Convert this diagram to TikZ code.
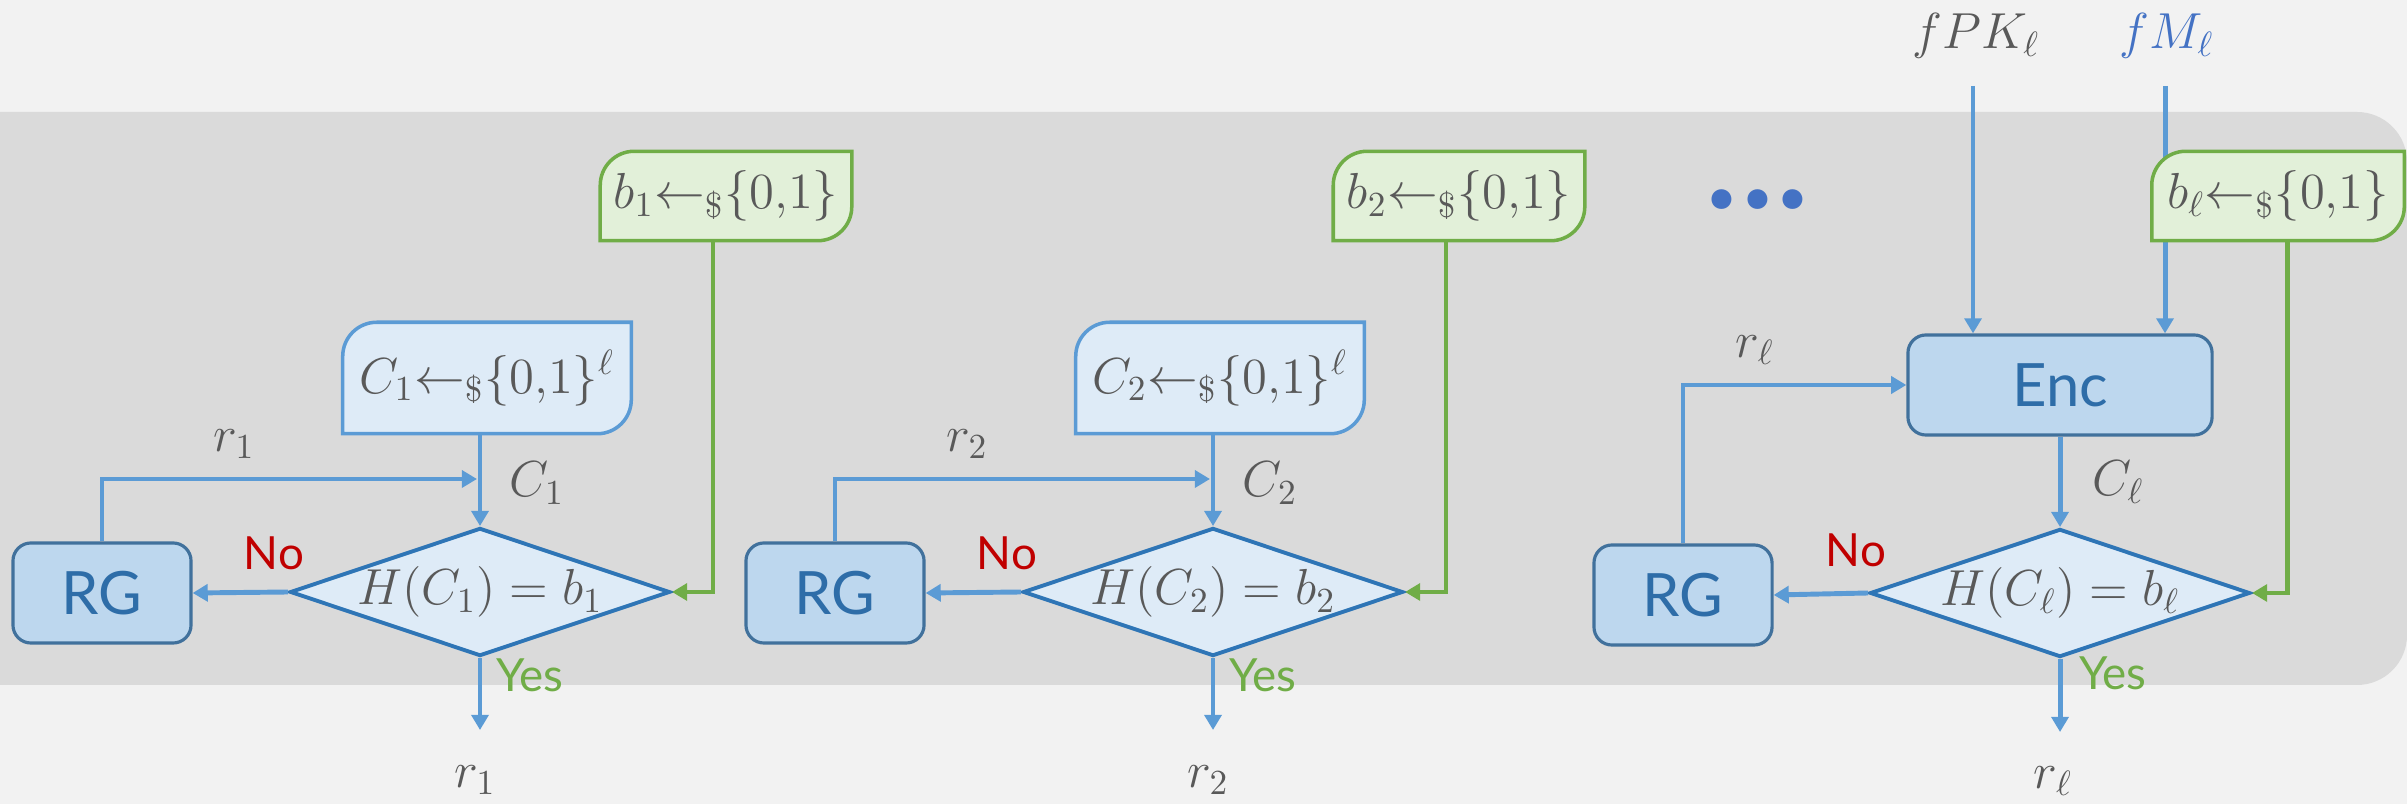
\documentclass[tikz,border=0pt]{standalone}
\usepackage{fontspec}
\setsansfont{Lato}
\newfontfamily\dotfont{Carlito}
\usetikzlibrary{arrows.meta,shapes.geometric,calc}
\definecolor{bgc}{HTML}{F2F2F2}
\definecolor{panelc}{HTML}{DADADA}
\definecolor{arrowblue}{HTML}{5B9BD5}
\definecolor{lightfill}{HTML}{DEEBF7}
\definecolor{diaborder}{HTML}{2E75B6}
\definecolor{greenc}{HTML}{70AD47}
\definecolor{greenfill}{HTML}{E2F0D9}
\definecolor{rgfill}{HTML}{BDD7EE}
\definecolor{rgborder}{HTML}{41719C}
\definecolor{rgtext}{HTML}{2E6DA8}
\definecolor{txtgray}{HTML}{595959}
\definecolor{lblue}{HTML}{4472C4}
\definecolor{redc}{HTML}{C00000}
\pgfdeclarelayer{bg}
\pgfsetlayers{bg,main}
\newcommand\rcshape[3]{%
  \draw[fill=#2, draw=#3, line width=1pt]
    (#1.south west) -- ([yshift=-0.34cm]#1.north west)
    arc[start angle=180,end angle=90,radius=0.34cm]
    -- (#1.north east) -- ([yshift=0.34cm]#1.south east)
    arc[start angle=0,end angle=-90,radius=0.34cm] -- cycle;}
\begin{document}
\begin{tikzpicture}[x=0.01cm,y=0.01cm,
  mfont/.style={font=\fontsize{14}{17}\selectfont},
  mtext/.style={mfont, text=txtgray, inner sep=0pt},
  arr/.style={draw=arrowblue, line width=1.4pt, -{Triangle[length=4.3pt,width=4.8pt]}},
  garr/.style={draw=greenc, line width=1.4pt, -{Triangle[length=4.3pt,width=4.8pt]}},
  sbox/.style={rectangle, rounded corners=0.18cm, draw=rgborder, fill=rgfill, line width=0.9pt,
    text=rgtext, font=\sffamily\fontsize{17}{20}\selectfont, minimum width=1.78cm, minimum height=1cm, inner sep=0pt},
  dia/.style={diamond, draw=diaborder, fill=lightfill, line width=1.1pt, minimum width=3.8cm,
    minimum height=1.28cm, inner sep=0pt, aspect=2.97, text=txtgray, mfont},
  cbox/.style={rectangle, minimum width=2.87cm, minimum height=1.10cm, inner sep=0pt, text=txtgray, mfont},
  bbox/.style={rectangle, minimum width=2.50cm, minimum height=0.88cm, inner sep=0pt, text=txtgray, mfont},
  nolab/.style={text=redc, font=\sffamily\fontsize{13}{15}\selectfont, inner sep=0pt},
  yeslab/.style={text=greenc, font=\sffamily\fontsize{13}{15}\selectfont, inner sep=0pt}
]
\useasboundingbox (0,0) rectangle (2407,-804);

% ---- sections 1 and 2 ----
\foreach \i/\dx in {1/0,2/733}{
  \node[sbox] (RG\i) at (102+\dx,-593) {RG};
  \node[dia] (d\i) at (480+\dx,-592) {\makebox[0pt][c]{$H(C_\i) = b_\i$}};
  \node[cbox] (C\i) at (487+\dx,-378) {$C_\i{\leftarrow}_{\$}\{0{,}1\}^{\ell}$};
  \node[bbox] (b\i) at (726+\dx,-196) {$b_\i{\leftarrow}_{\$}\{0{,}1\}$};
  \node[mtext] (r\i) at (234+\dx,-444) {$r_\i$};
  \node[mtext] (cl\i) at (537+\dx,-483) {$C_\i$};
  \node[nolab] (no\i) at (274+\dx,-553) {No};
  \node[yeslab] (yes\i) at (530+\dx,-675) {Yes};
  \node[mtext] (out\i) at (475+\dx,-780) {$r_\i$};
  \coordinate (j\i) at (477+\dx,-479);
  \coordinate (e\i) at (480+\dx,-730);
  \draw[arr] (C\i.south -| d\i.north) -- (d\i.north);
  \draw[arr] (RG\i.north) |- (j\i);
  \draw[arr] (d\i.west) -- (RG\i.east);
  \draw[garr] ([xshift=-0.13cm]b\i.south) |- (d\i.east);
  \draw[arr] (d\i.south) -- (e\i);
}

% ---- section 3 ----
\node[sbox] (RG3) at (1683,-595) {RG};
\node[sbox, minimum width=3.04cm] (Enc) at (2060,-385) {Enc};
\node[dia] (d3) at (2060,-593) {\makebox[0pt][c]{$H(C_\ell) = b_\ell$}};
\node[bbox, minimum width=2.51cm] (b3) at (2278,-196) {$b_\ell{\leftarrow}_{\$}\{0{,}1\}$};
\node[mtext, font=\fontsize{14.5}{17}\selectfont] (fPK) at (1976,-36) {$fPK_\ell$};
\node[mtext, text=lblue, font=\fontsize{14.5}{17}\selectfont] (fM) at (2167,-36) {$fM_\ell$};
\node[mtext] (r3) at (1755,-350) {$r_\ell$};
\node[mtext] (cl3) at (2118,-482) {$C_\ell$};
\node[nolab] (no3) at (1856,-550) {No};
\node[yeslab] (yes3) at (2113,-673) {Yes};
\node[mtext] (out3) at (2053,-781) {$r_\ell$};
\node[text=lblue, font=\dotfont\bfseries\itshape\fontsize{38}{40}\selectfont, inner sep=0pt] (dots) at (1760,-200) {...};
\coordinate (fPKs) at (1973,-86);
\coordinate (fMs) at (2165,-86);
\coordinate (e3) at (2060,-732);
\draw[arr] (fPKs) -- (fPKs |- Enc.north);
\draw[arr] (RG3.north) |- (Enc.west);
\draw[arr] (Enc.south) -- (d3.north);
\draw[arr] (d3.west) -- (RG3.east);
\draw[garr] ([xshift=0.095cm]b3.south) |- (d3.east);
\draw[arr] (d3.south) -- (e3);

% ---- background layer ----
\begin{pgfonlayer}{bg}
  \fill[bgc] (0,0) rectangle (2407,-804);
  \fill[panelc, rounded corners=0.5cm] (-100,-112) rectangle (2407,-685);
  \draw[arr] (fMs) -- (fMs |- Enc.north);
  \rcshape{C1}{lightfill}{arrowblue}
  \rcshape{C2}{lightfill}{arrowblue}
  \rcshape{b1}{greenfill}{greenc}
  \rcshape{b2}{greenfill}{greenc}
  \rcshape{b3}{greenfill}{greenc}
\end{pgfonlayer}
\end{tikzpicture}
\end{document}
